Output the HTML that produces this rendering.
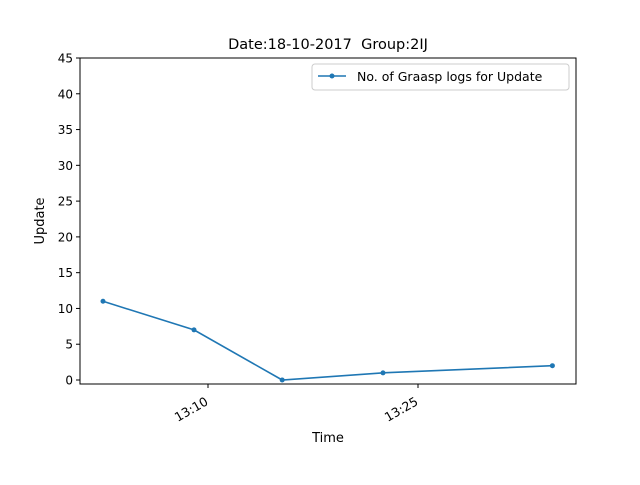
<!DOCTYPE html>
<html><head><meta charset="utf-8"><style>
body{margin:0;background:#fff;}
svg text{font-family:"DejaVu Sans","Liberation Sans",sans-serif;}
</style></head><body>
<svg id="chart" width="640" height="480"></svg>
<script>
const times = [-7.5, -1, 5.3, 12.5, 24.6]; // minutes relative to 13:10
const values = [11, 7, 0, 1, 2];
const yTicks = [0, 5, 10, 15, 20, 25, 30, 35, 40, 45];
const xTickMinutes = [0, 15];
const xTickLabels = ["13:10", "13:25"];

const NS = "http://www.w3.org/2000/svg";
const svg = document.getElementById("chart");
const L = 80, R = 576, T = 58, B = 384;
const xs = m => 208 + m * 14;
const ys = v => 380 - v * (322 / 45);
function mk(tag, attrs, parent) {
  const e = document.createElementNS(NS, tag);
  for (const k in attrs) e.setAttribute(k, attrs[k]);
  (parent || svg).appendChild(e);
  return e;
}
const title = mk("text", {x: 328, y: 49, "text-anchor": "middle", "font-size": 14.5, fill: "#000", style: "white-space:pre"});
title.textContent = "Date:18-10-2017  Group:2IJ";



const frame = mk("rect", {x: L, y: T, width: R - L, height: B - T, fill: "none", stroke: "#000", "stroke-width": 1});



yTicks.forEach(v => {
  const y = ys(v);
  const t = mk("line", {x1: L - 4, x2: L, y1: y, y2: y, stroke: "#000"});
  
  
  const lb = mk("text", {x: L - 7, y: y + 4.5, "text-anchor": "end", "font-size": 12});
  lb.textContent = v;
  
  
});
xTickMinutes.forEach((m, i) => {
  const x = xs(m);
  const t = mk("line", {x1: x, x2: x, y1: B, y2: B + 4, stroke: "#000"});
  
  
  const ax = x + 1, ay = B + 20;
  const lb = mk("text", {x: ax, y: ay, "text-anchor": "end", "font-size": 12.5, transform: `rotate(-30 ${ax} ${ay})`});
  lb.textContent = xTickLabels[i];
  
  
});
const xt = mk("text", {x: 328, y: 442, "text-anchor": "middle", "font-size": 13});
xt.textContent = "Time";


const yt = mk("text", {x: 44, y: 221, "text-anchor": "middle", "font-size": 13, transform: "rotate(-90 44 221)"});
yt.textContent = "Update";



const pts = times.map((m, i) => xs(m) + "," + ys(values[i])).join(" ");
const line = mk("polyline", {points: pts, fill: "none", stroke: "#1f77b4", "stroke-width": 1.6});


times.forEach((m, i) => {
  const c = mk("circle", {cx: xs(m), cy: ys(values[i]), r: 2.5, fill: "#1f77b4"});
  
  
});

const lg = mk("g", {});


mk("rect", {x: 312, y: 64, width: 257, height: 26, rx: 3, fill: "#fff", stroke: "#ccc"}, lg);
mk("line", {x1: 318, x2: 346, y1: 76, y2: 76, stroke: "#1f77b4", "stroke-width": 1.6}, lg);
mk("circle", {cx: 332, cy: 76, r: 2.5, fill: "#1f77b4"}, lg);
const lt = mk("text", {x: 357, y: 81, "font-size": 12.5}, lg);
lt.textContent = "No. of Graasp logs for Update";


</script>
</body></html>
